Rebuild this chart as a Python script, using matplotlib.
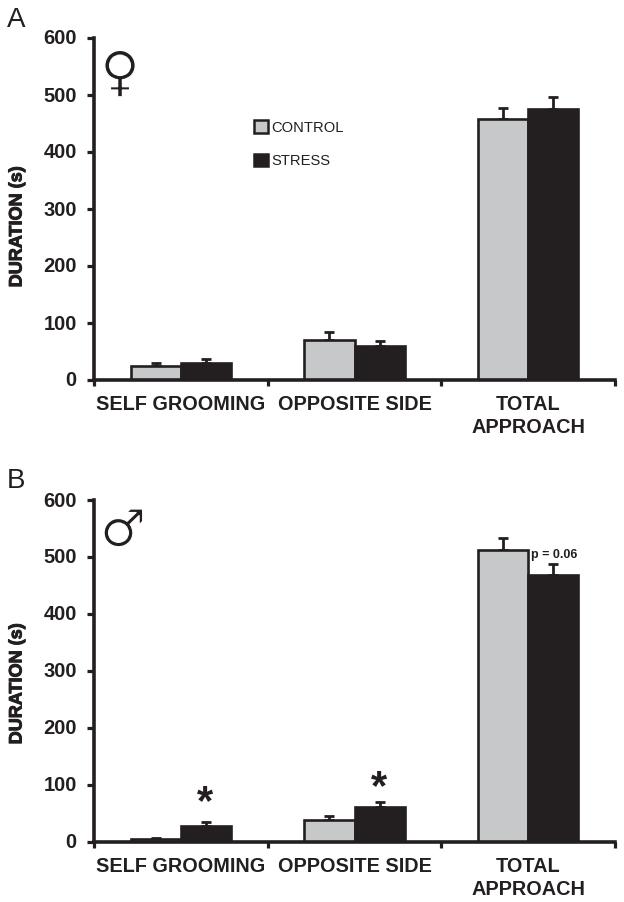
import numpy as np
import matplotlib
matplotlib.use("Agg")
import matplotlib.pyplot as plt
import matplotlib.patheffects as pe
from matplotlib.transforms import ScaledTranslation

plt.rcParams['font.family'] = ['Liberation Sans', 'DejaVu Sans']

categories = ["SELF GROOMING", "OPPOSITE SIDE", "TOTAL\nAPPROACH"]
yticks = [0, 100, 200, 300, 400, 500, 600]

# panel A, female
control_a = [24, 70, 458]
control_a_err = [5, 15, 19]
stress_a = [30, 59, 475]
stress_a_err = [7, 9, 22]

# panel B, male
control_b = [4, 38, 512]
control_b_err = [2, 7, 21]
stress_b = [27, 61, 468]
stress_b_err = [8, 8, 19]

GRAY = '#c6c8ca'
DARK = '#231f20'
W, H = 624, 902
bar_w = 0.288


def make_panel(top, bottom, control, control_err, stress, stress_err):
    ax = plt.axes([94 / W, 1 - bottom / H, (615 - 94) / W, (bottom - top) / H])
    x = np.arange(3) + 0.5
    ax.bar(x - bar_w / 2, control, bar_w, color=GRAY, edgecolor=DARK, linewidth=1.9, zorder=2)
    ax.bar(x + bar_w / 2, stress, bar_w, color=DARK, edgecolor=DARK, linewidth=1.9, zorder=3)
    ax.errorbar(x - bar_w / 2, control, yerr=[[0] * 3, control_err], fmt='none', ecolor=DARK,
                elinewidth=2, capsize=3.3, capthick=2, zorder=1)
    ax.errorbar(x + bar_w / 2, stress, yerr=[[0] * 3, stress_err], fmt='none', ecolor=DARK,
                elinewidth=2, capsize=3.3, capthick=2, zorder=1)
    ax.set_xlim(0, 3)
    ax.set_ylim(0, 600)
    ax.set_yticks(yticks)
    ax.set_xticks([0, 1, 2, 3])
    ax.set_xticklabels([])
    ax.tick_params(axis='y', length=5, width=2.3, color=DARK, labelsize=14.5, labelcolor=DARK, pad=7.5)
    ax.tick_params(axis='x', length=4, width=2.3, color=DARK)
    # labels sit a pixel low otherwise
    nudge = ScaledTranslation(0, 1 / 100, fig.dpi_scale_trans)
    for lab in ax.get_yticklabels():
        lab.set_fontweight('bold')
        lab.set_va('center_baseline')
        lab.set_transform(lab.get_transform() + nudge)
    for s in ['top', 'right']:
        ax.spines[s].set_visible(False)
    for s in ['left', 'bottom']:
        ax.spines[s].set_linewidth(2.6)
        ax.spines[s].set_color(DARK)
    for i, name in enumerate(categories):
        ax.annotate(name, xy=(x[i], 0), xytext=(0, -11), textcoords='offset points',
                    ha='center', va='top', fontsize=14.3, fontweight='bold', color=DARK,
                    linespacing=1.25, annotation_clip=False)
    return ax


fig = plt.figure(figsize=(6.24, 9.02), dpi=100)
ax_a = make_panel(38, 380, control_a, control_a_err, stress_a, stress_a_err)
ax_b = make_panel(500, 841.5, control_b, control_b_err, stress_b, stress_b_err)

# the rotated bold comes out thin, so thicken it a bit
thick = [pe.withStroke(linewidth=0.7, foreground=DARK)]
fig.text(17 / W, 1 - 227 / H, "DURATION (s)", rotation=90, fontsize=13, fontweight='bold', color=DARK,
         ha='center', va='center', path_effects=thick)
fig.text(17 / W, 1 - 684 / H, "DURATION (s)", rotation=90, fontsize=13, fontweight='bold', color=DARK,
         ha='center', va='center', path_effects=thick)

fig.text(7 / W, 1 - 20 / H, "A", fontsize=20, color=DARK, va='center')
fig.text(7 / W, 1 - 481 / H, "B", fontsize=20, color=DARK, va='center')

# DejaVu glyphs are too heavy, a white edge thins them down
thin = [pe.Stroke(linewidth=0.9, foreground='white')]
fig.text(120 / W, 1 - 75 / H, "\u2640", family='DejaVu Sans', fontsize=39, color=DARK, ha='center', va='center',
         path_effects=thin)
fig.text(123 / W, 1 - 532 / H, "\u2642", family='DejaVu Sans', fontsize=37, color=DARK, ha='center', va='center',
         path_effects=thin)

# legend
legend_handles = [plt.Rectangle((0, 0), 1, 1, facecolor=GRAY, edgecolor=DARK, linewidth=1.8),
                  plt.Rectangle((0, 0), 1, 1, facecolor=DARK, edgecolor=DARK, linewidth=1.8)]
fig.legend(legend_handles, ["CONTROL", "STRESS"], loc='upper left', bbox_to_anchor=(241 / W, 1 - 107 / H),
           frameon=False, fontsize=10.6, labelcolor=DARK, handlelength=0.93, handleheight=0.93,
           handletextpad=0.2, labelspacing=1.3)

ax_b.annotate("*", xy=(0.5 + bar_w / 2, 27), xytext=(-0.7, 16.5), textcoords='offset points', ha='center',
              va='center', fontsize=30, fontweight='bold', color=DARK)
ax_b.annotate("*", xy=(1.5 + bar_w / 2, 61), xytext=(-0.7, 13.5), textcoords='offset points', ha='center',
              va='center', fontsize=30, fontweight='bold', color=DARK)
ax_b.annotate("p = 0.06", xy=(2.5 + bar_w / 2, 468), xytext=(0.7, 14.5), textcoords='offset points', ha='center',
              va='center', fontsize=9, fontweight='bold', color=DARK)

fig.savefig("out.png", dpi=100)
